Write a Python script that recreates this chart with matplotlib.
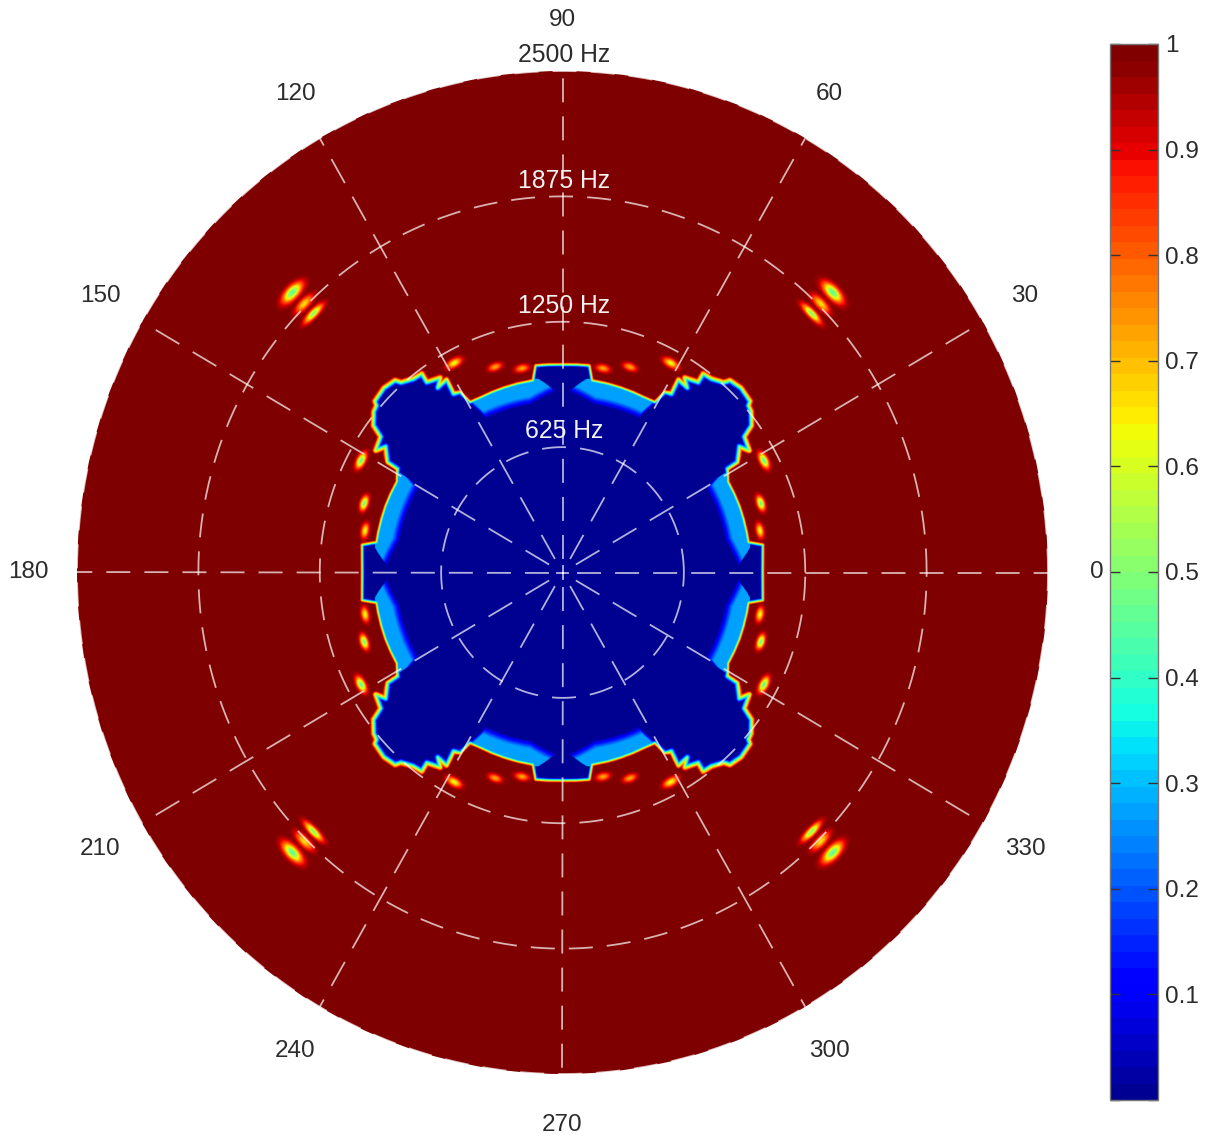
import numpy as np
import matplotlib
matplotlib.use("Agg")
import matplotlib.pyplot as plt
from matplotlib.colors import ListedColormap
from matplotlib.patches import Circle

plt.rcParams['font.family'] = ['Liberation Sans', 'DejaVu Sans']
plt.rcParams['lines.scale_dashes'] = False

# frequency rings and angle labels
ring_hz = [625, 1250, 1875, 2500]
ring_labels = ["625 Hz", "1250 Hz", "1875 Hz", "2500 Hz"]
angle_ticks = [0, 30, 60, 90, 120, 150, 180, 210, 240, 270, 300, 330]
cbar_ticks = [0, 0.1, 0.2, 0.3, 0.4, 0.5, 0.6, 0.7, 0.8, 0.9, 1]
cbar_labels = ["", "0.1", "0.2", "0.3", "0.4", "0.5", "0.6", "0.7", "0.8", "0.9", "1"]

# edge of the blue region in the first quadrant
edge_deg = [0, 7.6, 8.9, 12, 16, 20, 24, 28, 31.3, 31.4, 34.6, 32.3, 35.9, 37, 39.6, 41, 41.5, 45,
            48, 48.7, 51.5, 53.8, 53.6, 57, 55.1, 58.2, 57.8, 59.6, 60.7, 64, 68, 72, 76, 81, 82.4, 86, 90]
edge_hz = [1030, 1040, 968, 968, 968, 968, 966, 964, 994, 1055, 1106, 1138, 1155, 1218, 1260, 1268, 1289, 1300,
           1288, 1260, 1233, 1227, 1178, 1157, 1123, 1131, 1053, 1042, 973, 968, 968, 968, 968, 968, 1040, 1038, 1036]
# sharpness of that edge
soft_deg = [0, 30, 32, 58, 60, 90]
soft_hz = [12, 12, 20, 20, 12, 12]

# lighter blue band just inside the edge
band_deg = [0, 2.3, 7.4, 11, 29.5, 30.6, 31, 59, 60.6, 63, 79, 82.6, 87.7, 90]
band_start = [920, 900, 870, 850, 850, 900, 1100, 1100, 960, 860, 850, 870, 900, 920]
band_stop = [880, 905, 975, 975, 975, 975, 975, 975, 975, 975, 975, 975, 905, 880]
band_peak = 0.28

# small dips outside the edge
spot_deg = [11.6, 18.7, 28.3, 61.9, 71.3, 78.4, 45.1, 45.2, 45.2]
spot_hz = [1038, 1078, 1178, 1184, 1082, 1039, 1971, 1888, 1820]
spot_val = [0.62, 0.47, 0.45, 0.62, 0.72, 0.72, 0.45, 0.66, 0.5]
spot_long = [25, 25, 28, 28, 25, 25, 44, 40, 42]
spot_thin = [13, 13, 14, 14, 13, 13, 20, 16, 13]

# field over one quadrant, the others are mirrors of it
n = 800
step = 2500 / n
xs = (np.arange(n) + 0.5) * step
X, Y = np.meshgrid(xs, xs)
R = np.hypot(X, Y)
T = np.degrees(np.arctan2(Y, X))

ex = np.array(edge_hz) * np.cos(np.radians(edge_deg))
ey = np.array(edge_hz) * np.sin(np.radians(edge_deg))

# distance to the edge line, one segment at a time
dist = np.full(X.shape, 1e9)
for i in range(len(ex) - 1):
    dx = ex[i + 1] - ex[i]
    dy = ey[i + 1] - ey[i]
    u = ((X - ex[i]) * dx + (Y - ey[i]) * dy) / (dx * dx + dy * dy)
    u = np.clip(u, 0, 1)
    d = np.hypot(X - ex[i] - u * dx, Y - ey[i] - u * dy)
    dist = np.minimum(dist, d)

# inside test, polygon is closed through the centre
px = np.append(ex, 0)
py = np.append(ey, 0)
path = matplotlib.path.Path(np.column_stack([px, py]))
inside = path.contains_points(np.column_stack([X.ravel(), Y.ravel()])).reshape(X.shape)
signed = np.where(inside, -dist, dist)
soft = np.interp(T, soft_deg, soft_hz)
field = np.clip((signed + soft) / (2 * soft), 0, 1)

# band
start = np.interp(T, band_deg, band_start)
stop = np.interp(T, band_deg, band_stop)
band = band_peak * np.clip((R - start) / 45, 0, 1)
band[R > stop] = 0
field = np.where(inside, np.maximum(field, band), field)

# spots
for i in range(len(spot_deg)):
    along = R * np.radians(T - spot_deg[i])
    across = R - spot_hz[i]
    g = np.exp(-0.5 * (along / spot_long[i]) ** 2 - 0.5 * (across / spot_thin[i]) ** 2)
    field = np.minimum(field, 1 - (1 - spot_val[i]) * g)

top = np.hstack([field[:, ::-1], field])
full = np.vstack([top[::-1, :], top])

fig = plt.figure(figsize=(12.06, 11.39), dpi=100)
W = 1206
H = 1139
ax = fig.add_axes([77 / W, 1 - 1074 / H, 971 / W, 1003 / H])
ax.set_xlim(-2500, 2500)
ax.set_ylim(-2500, 2500)
ax.axis('off')

jet = plt.get_cmap('jet')
cmap = ListedColormap(jet(np.linspace(1 / 64, 1, 64)))
im = ax.imshow(full, origin='lower', extent=[-2500, 2500, -2500, 2500], aspect='auto',
               cmap=cmap, vmin=0, vmax=1, interpolation='bilinear')
disc = Circle((0, 0), 2500, transform=ax.transData)
im.set_clip_path(disc)

grid_col = 'white'
grid_alpha = 0.7
lw = 1.3
t = np.linspace(0, 2 * np.pi, 721)
for r in ring_hz:
    ax.plot(r * np.cos(t), r * np.sin(t), color=grid_col, alpha=grid_alpha, lw=lw, ls=(0, (17.3, 10.1)),
            dash_capstyle='butt', clip_on=False)

for a in angle_ticks:
    c = np.cos(np.radians(a))
    s = np.sin(np.radians(a))
    # spokes on the axes have a shorter dash than the slanted ones
    if a % 90 == 0:
        dash = (17.3, (17.3, 10.1))
    else:
        dash = (19.8, (19.8, 11.2))
    ax.plot([0, 2500 * c], [0, 2500 * s], color=grid_col, alpha=grid_alpha, lw=lw, ls=dash,
            dash_capstyle='butt', clip_on=False)
    if a % 90 == 0:
        # little cross at the centre
        ax.plot([0, 30 * c], [0, 30 * s], color=grid_col, alpha=grid_alpha, lw=lw, dash_capstyle='butt')
    ax.text(2750 * c, 2755 * s, str(a), ha='center', va='center', fontsize=17.5, color='#2b2b2b')

for r, lab in zip(ring_hz, ring_labels):
    col = '#2b2b2b' if r == 2500 else '#f2f2f2'
    ax.text(10, r + 78, lab, ha='center', va='center', fontsize=17.8, color=col, clip_on=False)

cax = fig.add_axes([1110 / W, 1 - 1100 / H, 48 / W, 1056 / H])
cb = fig.colorbar(im, cax=cax, ticks=cbar_ticks, drawedges=False)
cb.ax.set_yticklabels(cbar_labels)
cb.ax.tick_params(direction='in', length=7, width=1, color='#333333', left=True, right=True,
                  labelsize=17.5, labelcolor='#2b2b2b', pad=5)
cb.outline.set_edgecolor('#777777')
cb.outline.set_linewidth(1)

fig.savefig("out.png", dpi=100)
